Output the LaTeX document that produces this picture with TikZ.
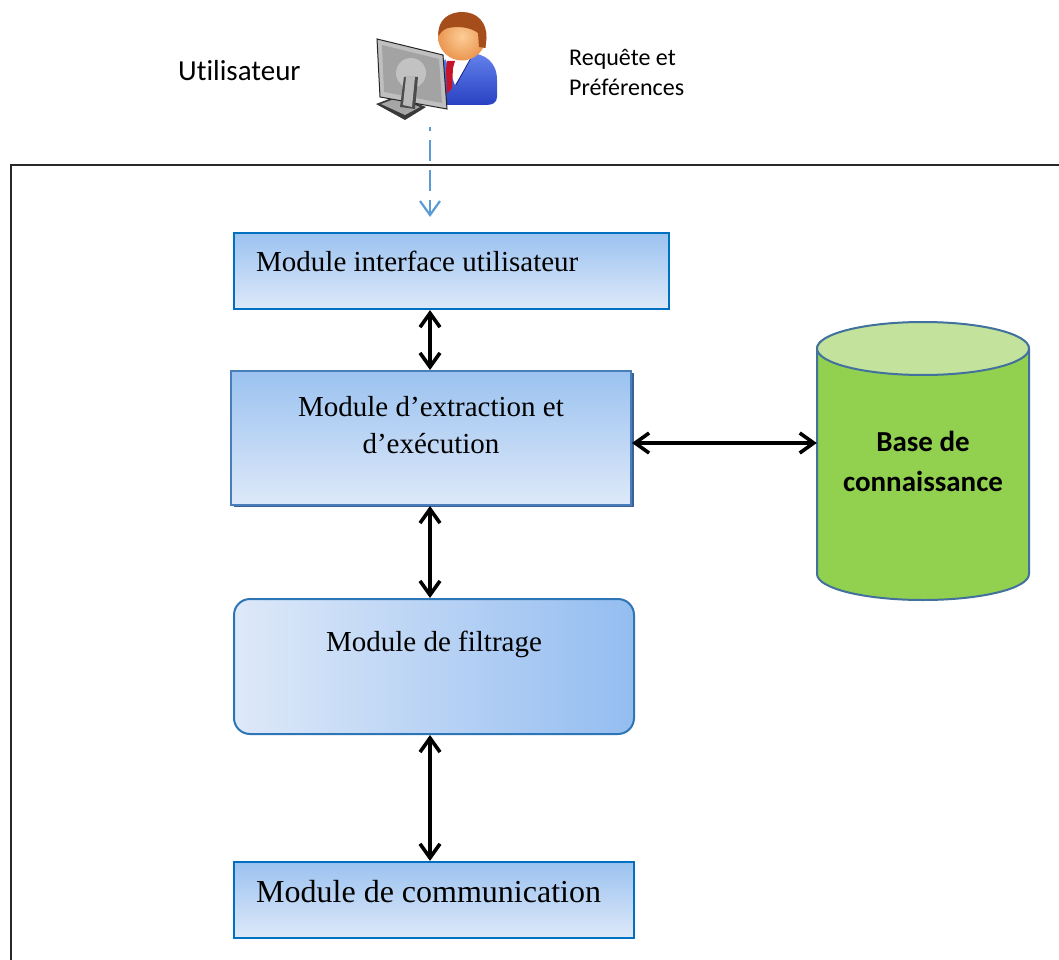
\documentclass[tikz,border=0pt]{standalone}
\usepackage{fontspec}
\setmainfont{Liberation Serif}
\newfontfamily\calibri[Ligatures=NoCommon]{Carlito}
\usetikzlibrary{arrows.meta,shadows}

\definecolor{boxblue}{RGB}{0,112,192}
\definecolor{steelblue}{RGB}{74,126,187}
\definecolor{roundblue}{RGB}{46,117,182}
\definecolor{shadeblue}{RGB}{58,98,150}
\definecolor{gradtop}{RGB}{155,194,240}
\definecolor{gradbot}{RGB}{222,233,249}
\definecolor{gradright}{RGB}{148,189,240}
\definecolor{cylgreen}{RGB}{146,208,80}
\definecolor{cyltop}{RGB}{195,226,155}
\definecolor{cylline}{RGB}{65,113,156}
\definecolor{dashblue}{RGB}{91,155,213}
\definecolor{framegray}{RGB}{40,40,40}
\definecolor{skin}{RGB}{235,150,80}
\definecolor{skinlight}{RGB}{252,205,150}
\definecolor{hair}{RGB}{165,78,28}
\definecolor{suit}{RGB}{40,65,195}
\definecolor{suitlight}{RGB}{100,130,235}
\definecolor{tie}{RGB}{200,20,40}

\tikzset{
  lbl/.style={inner sep=0pt},
  serif/.style={lbl, font=\fontsize{29pt}{35pt}\selectfont},
  serifbig/.style={lbl, font=\fontsize{32pt}{38pt}\selectfont},
  sans/.style={lbl, font=\calibri\fontsize{29pt}{35pt}\selectfont},
  sanssmall/.style={lbl, font=\calibri\fontsize{24pt}{30pt}\selectfont},
  sansbold/.style={lbl, font=\calibri\bfseries\fontsize{29pt}{35pt}\selectfont},
  modbox/.style={draw=boxblue, line width=2.2pt, top color=gradtop, bottom color=gradbot, inner sep=0pt},
  extbox/.style={draw=steelblue, line width=2pt, top color=gradtop, bottom color=gradbot, inner sep=0pt,
    drop shadow={shadow xshift=2.5pt, shadow yshift=-2pt, fill=shadeblue, opacity=1}},
  filtbox/.style={draw=roundblue, line width=2pt, left color=gradbot, right color=gradright,
    rounded corners=16pt, inner sep=0pt},
  biarrow/.style={{Straight Barb[length=14pt,width=20pt]}-{Straight Barb[length=14pt,width=20pt]},
    line width=3.6pt, black},
  dasharrow/.style={-{Straight Barb[length=14pt,width=20pt]}, line width=2.2pt, dashblue,
    dash pattern=on 21pt off 9pt, dash phase=17pt},
  frame/.style={draw=framegray, line width=2pt},
  cyl/.style={draw=cylline, line width=2pt},
}

\begin{document}
\begin{tikzpicture}[x=1pt,y=-1pt]
\useasboundingbox (0,0) rectangle (1059,960);
\clip (0,0) rectangle (1059,960);

% outer frame (runs off the right and bottom edges)
\draw[frame] (11,165) rectangle (1080,985);

% ---- user icon ----
% suit
\shade[top color=suitlight, bottom color=suit]
  (440,105) -- (440,72) .. controls (440,58) and (452,53) .. (468,53)
  .. controls (486,53) and (497,63) .. (497,80) -- (497,97)
  .. controls (497,103) and (492,105) .. (486,105) -- cycle;
% shirt collar
\fill[white] (444,55) -- (472,56) -- (455,85) -- cycle;
% lapel line
\draw[suit!70!black, line width=0.8pt] (472,56) -- (456,85);
% tie
\fill[tie] (447,61) -- (455,61) -- (453,68) -- (452,88) -- (447,94) -- (446,70) -- cycle;
% head
\shade[inner color=skinlight, outer color=skin] (462,36.5) circle[radius=24pt];
% hair
\fill[hair] (438.5,36) .. controls (437,19) and (450,12) .. (462,12)
  .. controls (477,12) and (487,22) .. (486.5,38) -- (485.5,48) -- (479,47) -- (478,33)
  .. controls (470,27) and (458,26) .. (448,28)
  .. controls (444,29) and (441,32) .. (438.5,36) -- cycle;
% monitor base
\fill[gray!45!black] (376,104) -- (397,96) -- (426,107) -- (405,120) -- cycle;
\fill[gray!70] (381,104) -- (397,98) -- (420,107) -- (405,115) -- cycle;
% monitor back
\filldraw[fill=gray!50, draw=gray!30!black, line width=1pt]
  (377,39) -- (443,55) -- (447,109) -- (380,97) -- cycle;
\fill[gray!72] (382,45) -- (439,59) -- (442,103) -- (384,92) -- cycle;
% stand
\fill[gray!48] (411,73) circle[radius=15pt];
\fill[gray!60!black] (404,77) -- (418,77) -- (415,109) -- (400,107) -- cycle;
\fill[gray!55] (406,77) -- (415,77) -- (412,107) -- (403,105) -- cycle;

\node[lbl, minimum width=122pt, minimum height=107pt] (user) at (436,65.5) {};
\coordinate (axis) at (430,0);

% labels next to the user
\node[sans, anchor=base west] (utl) at (178,81) {Utilisateur};
\node[sanssmall, anchor=base west] (req1) at (569,66) {Requête et};
\node[sanssmall, anchor=base west] (req2) at (569,96) {Préférences};

% ---- modules ----
\node[modbox, minimum width=435pt, minimum height=76pt] (ui) at (451.5,271) {};
\node[serif, anchor=base west] (uit) at (256,271) {Module interface utilisateur};

\node[extbox, minimum width=400pt, minimum height=134pt] (ex) at (431,438) {};
\node[serif, anchor=base] (ext1) at (431,416.7) {Module d’extraction et};
\node[serif, anchor=base] (ext2) at (431,453.3) {d’exécution};

\node[filtbox, minimum width=400pt, minimum height=135pt] (fl) at (434,666.5) {};
\node[serif, anchor=base] (flt) at (434,651.7) {Module de filtrage};

\node[modbox, minimum width=400pt, minimum height=76pt] (cm) at (434,900) {};
\node[serifbig, anchor=base west] (cmt) at (256,902) {Module de communication};

% ---- knowledge base cylinder ----
\filldraw[cyl, fill=cylgreen] (817,349) -- (817,574)
  arc[start angle=180, end angle=360, x radius=106pt, y radius=26pt]
  -- (1029,349)
  arc[start angle=0, end angle=180, x radius=106pt, y radius=26.5pt] -- cycle;
\filldraw[cyl, fill=cyltop] (923,348.5) ellipse[x radius=106pt, y radius=26.5pt];
\node[lbl, minimum width=212pt, minimum height=200pt] (db) at (923,461) {};
\node[sansbold, anchor=base] (db1) at (923,451.7) {Base de};
\node[sansbold, anchor=base] (db2) at (923,491.7) {connaissance};

% ---- connectors ----
\draw[dasharrow, shorten <=8pt, shorten >=15pt] (user.south -| axis) -- (ui.north -| axis);
\draw[biarrow] (ui.south -| axis) -- (ex.north -| axis);
\draw[biarrow] (ex.south -| axis) -- (fl.north -| axis);
\draw[biarrow] (fl.south -| axis) -- (cm.north -| axis);
\draw[biarrow] ([yshift=-5pt]ex.east) -- ([yshift=-5pt]ex.east -| db.west);
\end{tikzpicture}
\end{document}
